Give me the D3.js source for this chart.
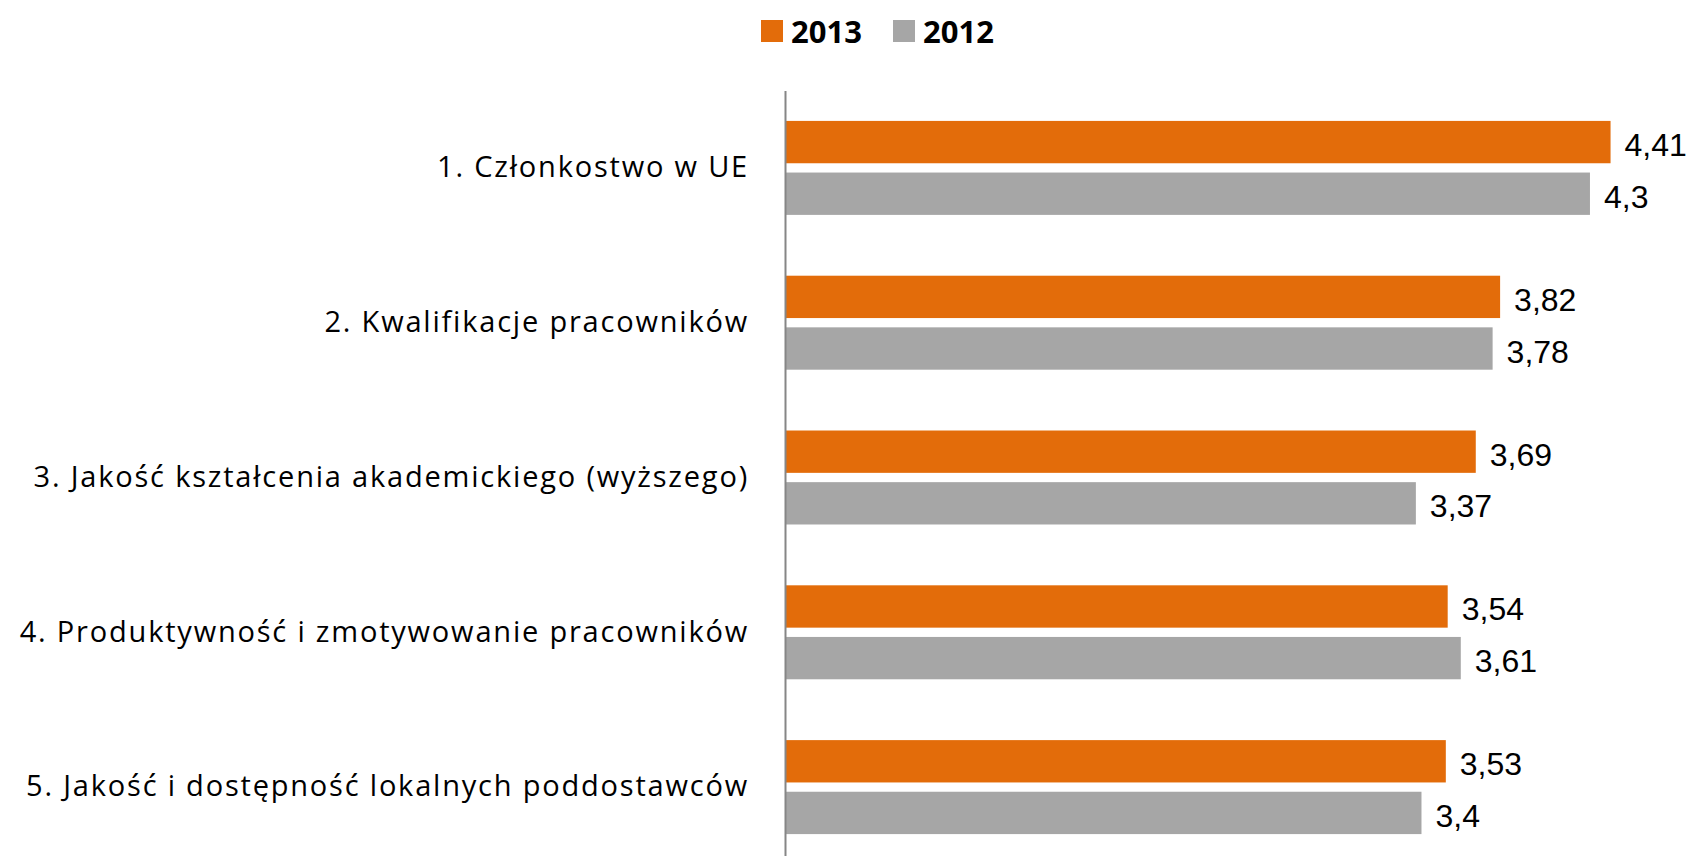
<!DOCTYPE html>
<html>
<head>
<meta charset="utf-8">
<script src="https://cdn.jsdelivr.net/npm/d3@7"></script>
<style>
  html, body { margin: 0; padding: 0; background: #fff; }
  svg { display: block; }
</style>
</head>
<body>
<svg id="chart" width="1697" height="856"></svg>
<script>
const categories = [
  "1. Członkostwo w UE",
  "2. Kwalifikacje pracowników",
  "3. Jakość kształcenia akademickiego (wyższego)",
  "4. Produktywność i zmotywowanie pracowników",
  "5. Jakość i dostępność lokalnych poddostawców"
];
const seriesNames = ["2013", "2012"];
const values2013 = [4.41, 3.82, 3.69, 3.54, 3.53];
const values2012 = [4.3, 3.78, 3.37, 3.61, 3.4];
const seriesColors = ["#E36C0A", "#A6A6A6"];

const seriesValues = { "2013": values2013, "2012": values2012 };
const rows = categories.map((c, i) => ({ cat: c, vals: seriesNames.map(s => ({ s, v: seriesValues[s][i] })) }));

const svg = d3.select("#chart");
const axisX = 785;

const x = d3.scaleLinear().domain([0, 5]).range([axisX, axisX + 5 * 187.2]);
const y0 = d3.scaleBand().domain(categories).range([90.5, 864.5]).paddingInner(0).paddingOuter(0);
const y1 = d3.scaleBand().domain(seriesNames).range([0, y0.bandwidth()]).paddingInner(0.18).paddingOuter(0.589);
const color = d3.scaleOrdinal().domain(seriesNames).range(seriesColors);

// bars
const g = svg.append("g");
const grp = g.selectAll("g.cat").data(rows).enter().append("g")
  .attr("transform", d => `translate(0,${y0(d.cat)})`);
grp.selectAll("rect").data(d => d.vals).enter().append("rect")
  .attr("x", x(0))
  .attr("y", d => y1(d.s))
  .attr("width", d => x(d.v) - x(0))
  .attr("height", y1.bandwidth())
  .attr("fill", d => color(d.s));
grp.selectAll("text").data(d => d.vals).enter().append("text")
  .attr("x", d => x(d.v) + 14)
  .attr("y", d => y1(d.s) + y1.bandwidth() / 2 + 14)
  .attr("font-family", "'Liberation Sans', Arial, sans-serif")
  .attr("font-size", 32)
  .attr("fill", "#000")
  .text(d => String(d.v).replace(".", ","));

// axis
const axis = svg.append("g")
  .attr("transform", `translate(${axisX},0)`)
  .call(d3.axisLeft(y0).tickSize(0).tickSizeOuter(0).tickPadding(36));
axis.select(".domain").attr("stroke", "#868686").attr("stroke-width", 2);
axis.selectAll(".tick text")
  .attr("font-family", "'Open Sans', Lato, sans-serif")
  .attr("font-size", 29)
  .attr("letter-spacing", 1.8)
  .attr("fill", "#000");

// legend
const legendX = [761, 893];
const lg = svg.append("g").selectAll("g").data(seriesNames).enter().append("g")
  .attr("transform", (d, i) => `translate(${legendX[i]},20)`);
lg.append("rect").attr("width", 22).attr("height", 22).attr("fill", d => color(d));
lg.append("text")
  .attr("x", 30).attr("y", 22.5)
  .attr("font-family", "'Open Sans', Lato, sans-serif")
  .attr("font-weight", "bold")
  .attr("font-size", 31)
  .attr("fill", "#000")
  .text(d => d);
</script>
</body>
</html>
